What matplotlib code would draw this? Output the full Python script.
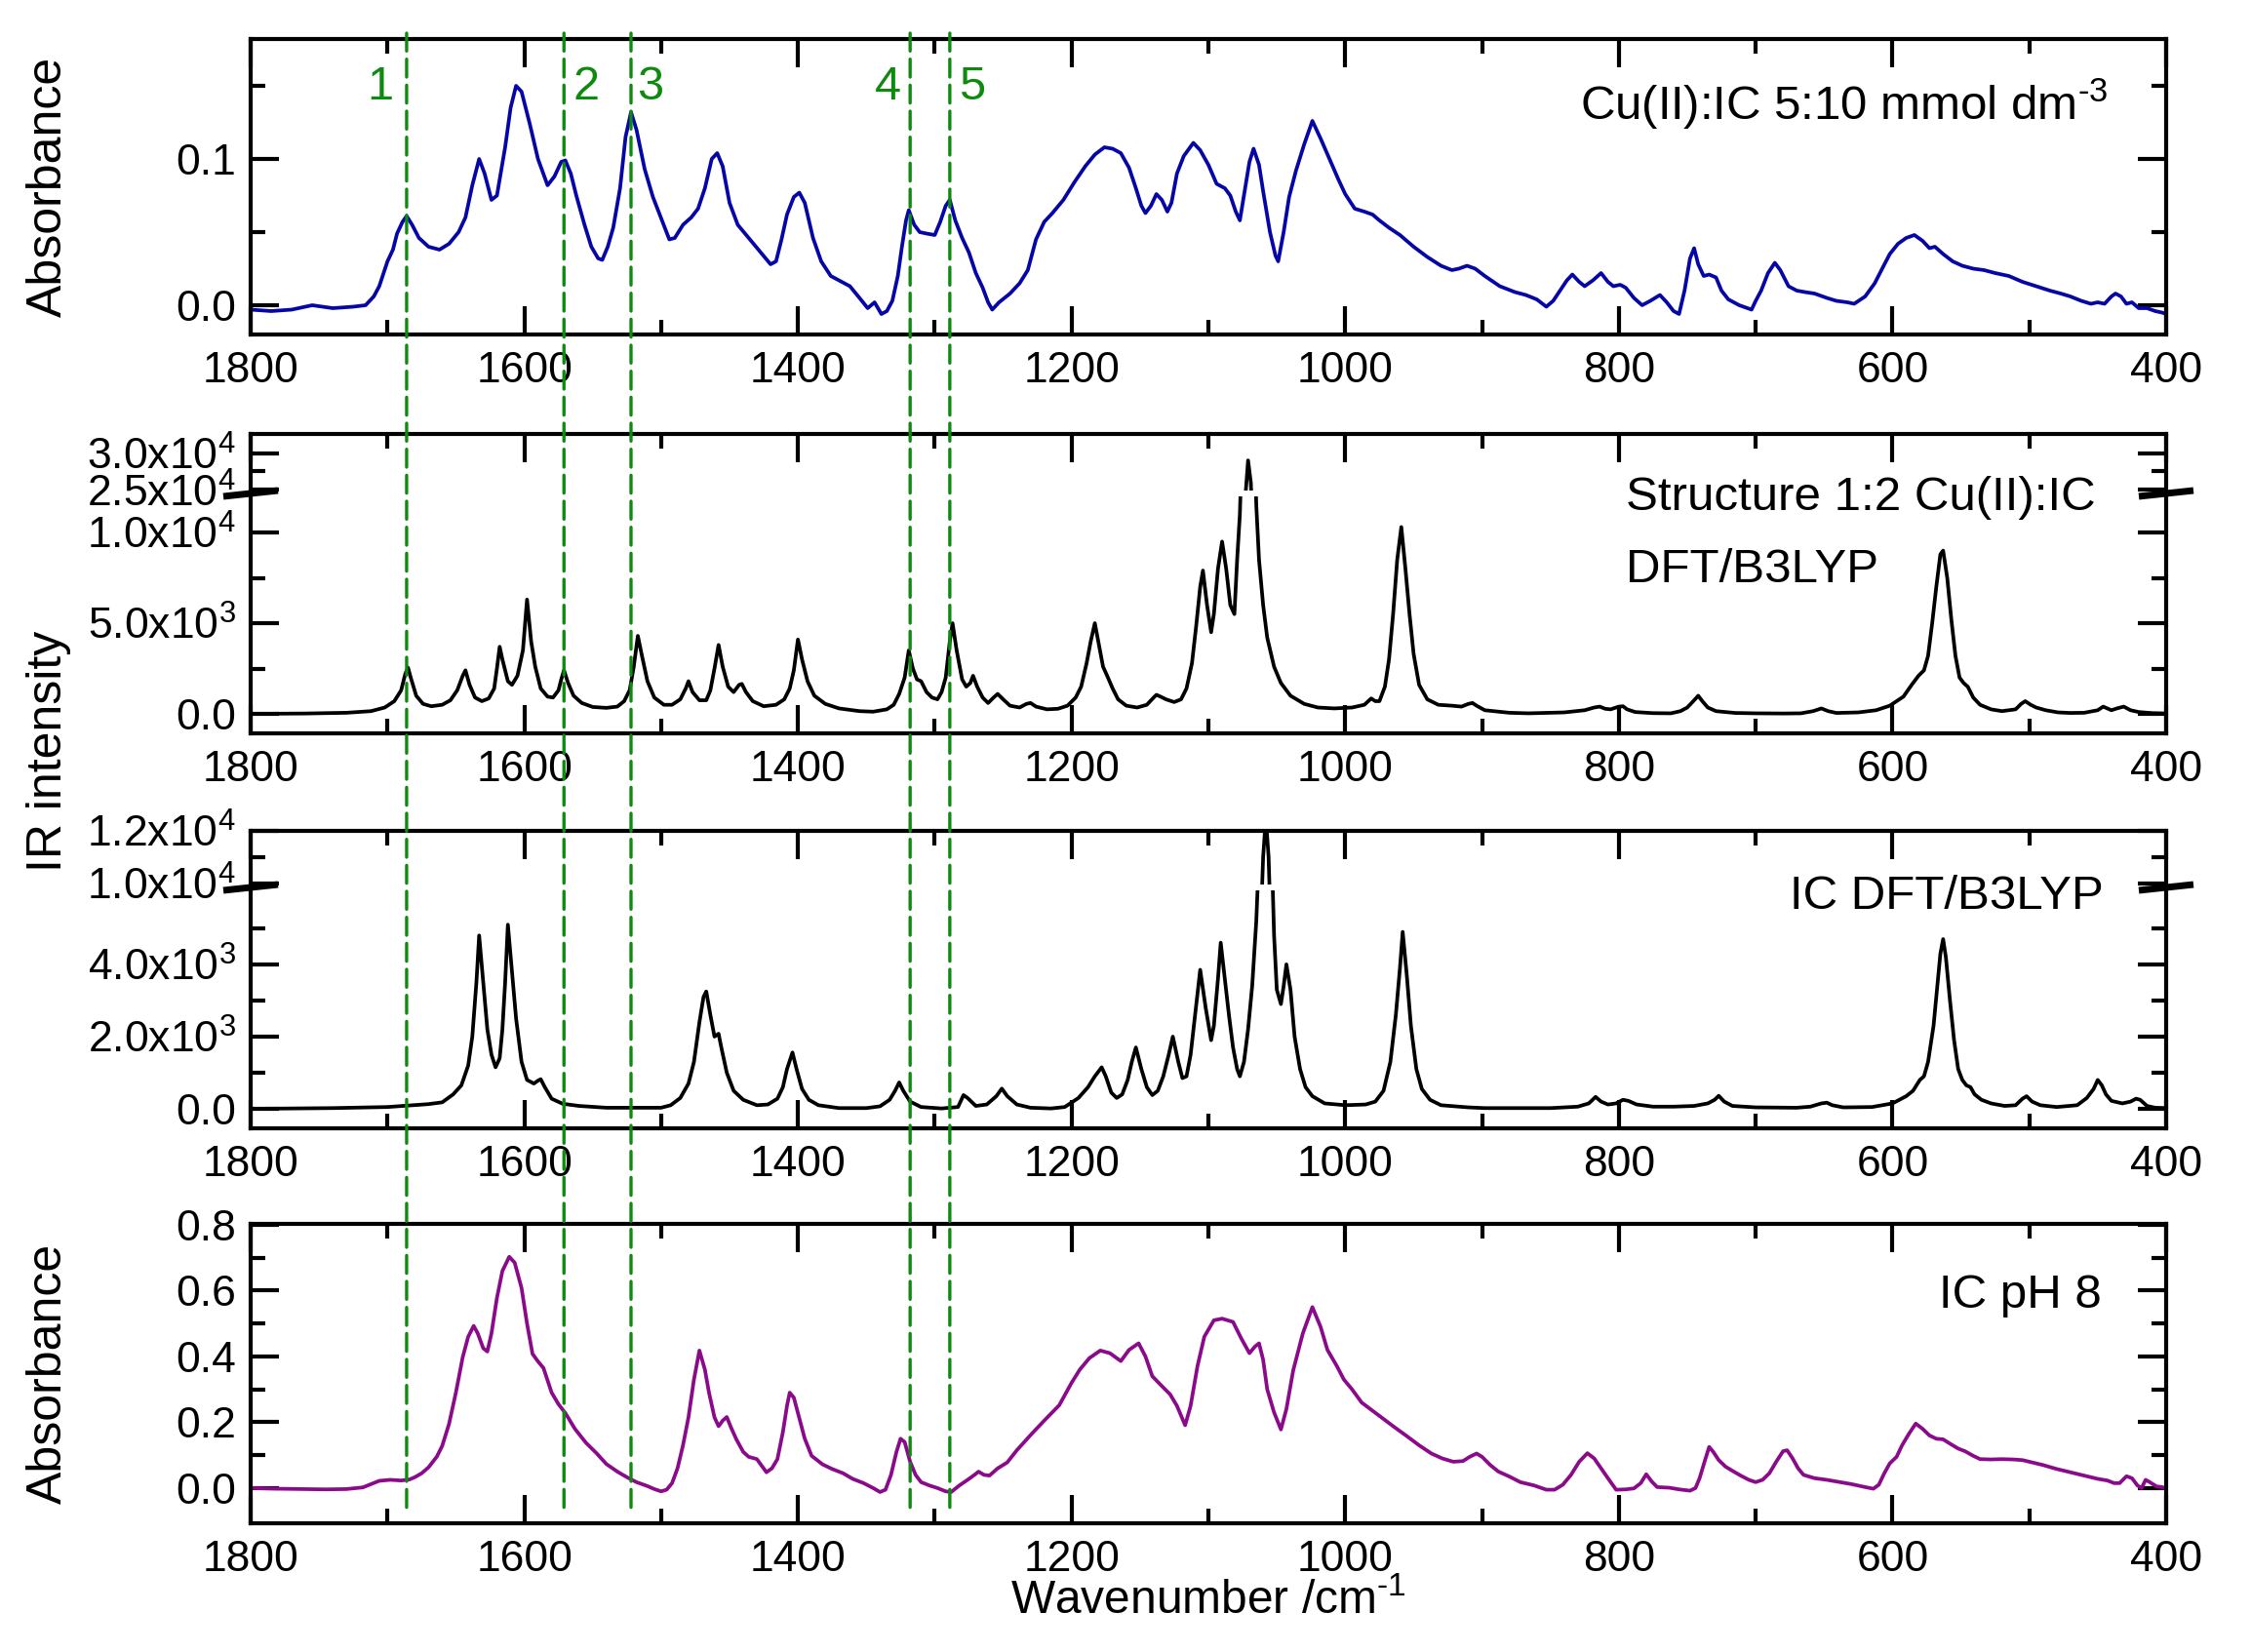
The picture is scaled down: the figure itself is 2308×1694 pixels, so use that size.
import matplotlib
matplotlib.use("Agg")
import matplotlib.pyplot as plt
from matplotlib.patches import ConnectionPatch
from matplotlib.lines import Line2D
from matplotlib.ticker import FixedLocator, FixedFormatter, MultipleLocator

plt.rcParams['font.family'] = ['Liberation Sans', 'DejaVu Sans']
plt.rcParams['mathtext.fontset'] = 'custom'
plt.rcParams['mathtext.rm'] = 'Liberation Sans'
plt.rcParams['mathtext.it'] = 'Liberation Sans:italic'
plt.rcParams['mathtext.bf'] = 'Liberation Sans:bold'

# ---------------- data ----------------
# Panel 1: Cu(II):IC 5:10 mmol dm-3 experimental absorbance
wn_cu = [1800, 1785, 1770, 1755, 1740, 1725, 1716, 1710, 1706, 1700, 1696, 1693, 1689, 1686, 1682, 1677,
         1670, 1662, 1655, 1648, 1643, 1638, 1633, 1629, 1624, 1620, 1614, 1610, 1606, 1602, 1596, 1590,
         1583, 1578, 1573, 1570, 1566, 1562, 1556, 1551, 1546, 1543, 1539, 1535, 1530, 1526, 1522, 1518,
         1512, 1506, 1501, 1494, 1490, 1484, 1478, 1473, 1468, 1463, 1459, 1455, 1450, 1444, 1436, 1428,
         1420, 1416, 1412, 1408, 1403, 1399, 1395, 1389, 1383, 1376, 1368, 1362, 1355, 1349, 1344, 1339,
         1335, 1331, 1327, 1324, 1321, 1319, 1315, 1311, 1306, 1300, 1296, 1292, 1289, 1285, 1280, 1275,
         1270, 1265, 1261, 1258, 1253, 1245, 1238, 1232, 1226, 1220, 1214, 1206, 1198, 1190, 1183, 1176,
         1170, 1164, 1158, 1153, 1149, 1146, 1142, 1138, 1134, 1130, 1127, 1123, 1118, 1111, 1106, 1100,
         1094, 1088, 1084, 1080, 1077, 1074, 1070, 1067, 1063, 1060, 1055, 1051, 1049, 1045, 1041, 1036,
         1030, 1024, 1018, 1011, 1005, 1000, 993, 986, 980, 975, 968, 960, 950, 940, 930, 922,
         917, 911, 905, 898, 887, 876, 868, 860, 853, 848, 843, 838, 834, 829, 825, 819,
         813, 808, 804, 799, 795, 789, 783, 777, 770, 765, 760, 756, 752, 748, 745, 742,
         738, 734, 729, 725, 720, 712, 706, 703, 700, 696, 691, 686, 682, 676, 670, 664,
         657, 648, 641, 633, 628, 620, 613, 607, 602, 596, 590, 584, 578, 573, 569, 563,
         556, 549, 541, 533, 525, 515, 505, 495, 485, 477, 470, 462, 455, 450, 445, 440,
         437, 433, 429, 425, 420, 414, 408, 403, 400]
abs_cu = [-0.003, -0.004, -0.003, 0.000, -0.002, -0.001, 0.000, 0.006, 0.013, 0.030, 0.038, 0.049, 0.057, 0.061, 0.055, 0.046,
          0.040, 0.038, 0.042, 0.050, 0.060, 0.082, 0.100, 0.090, 0.072, 0.075, 0.108, 0.135, 0.150, 0.146, 0.124, 0.100,
          0.082, 0.088, 0.098, 0.099, 0.090, 0.075, 0.055, 0.040, 0.032, 0.031, 0.040, 0.053, 0.080, 0.115, 0.132, 0.120,
          0.093, 0.074, 0.062, 0.045, 0.046, 0.055, 0.060, 0.066, 0.080, 0.100, 0.104, 0.095, 0.070, 0.055, 0.046, 0.037,
          0.028, 0.030, 0.045, 0.062, 0.074, 0.077, 0.070, 0.046, 0.030, 0.020, 0.016, 0.013, 0.005, -0.002, 0.002, -0.006,
          -0.004, 0.003, 0.020, 0.040, 0.058, 0.065, 0.055, 0.050, 0.049, 0.048, 0.057, 0.068, 0.072, 0.058, 0.046, 0.036,
          0.022, 0.012, 0.002, -0.003, 0.002, 0.008, 0.015, 0.024, 0.045, 0.057, 0.063, 0.072, 0.084, 0.095, 0.103, 0.108,
          0.107, 0.104, 0.094, 0.080, 0.068, 0.063, 0.068, 0.076, 0.072, 0.064, 0.070, 0.090, 0.102, 0.111, 0.106, 0.096,
          0.083, 0.080, 0.075, 0.064, 0.058, 0.075, 0.098, 0.107, 0.096, 0.078, 0.050, 0.034, 0.030, 0.050, 0.074, 0.092,
          0.110, 0.126, 0.114, 0.099, 0.086, 0.076, 0.066, 0.064, 0.062, 0.058, 0.053, 0.048, 0.040, 0.033, 0.027, 0.024,
          0.025, 0.027, 0.025, 0.020, 0.013, 0.009, 0.007, 0.004, -0.001, 0.003, 0.010, 0.017, 0.021, 0.016, 0.013, 0.017,
          0.022, 0.016, 0.013, 0.014, 0.012, 0.005, 0.000, 0.003, 0.007, 0.002, -0.004, -0.006, 0.010, 0.032, 0.039, 0.028,
          0.020, 0.021, 0.019, 0.010, 0.004, 0.000, -0.002, -0.003, 0.003, 0.010, 0.022, 0.029, 0.024, 0.013, 0.010, 0.009,
          0.008, 0.005, 0.003, 0.002, 0.001, 0.006, 0.015, 0.026, 0.035, 0.042, 0.046, 0.048, 0.044, 0.039, 0.040, 0.035,
          0.030, 0.027, 0.025, 0.024, 0.022, 0.020, 0.016, 0.013, 0.010, 0.008, 0.006, 0.003, 0.001, 0.002, 0.001, 0.006,
          0.008, 0.006, 0.001, 0.002, -0.002, -0.002, -0.004, -0.005, -0.006]

# Panel 2: Structure 1:2 Cu(II):IC, DFT/B3LYP IR intensity
wn_cu_dft = [1800, 1760, 1730, 1712, 1702, 1695, 1690, 1687, 1685, 1683, 1679, 1674, 1668, 1660, 1654, 1649,
             1645, 1643, 1640, 1636, 1631, 1626, 1622, 1620, 1618, 1616, 1612, 1609, 1605, 1601, 1598, 1595,
             1592, 1588, 1583, 1579, 1575, 1573, 1571, 1568, 1564, 1558, 1550, 1540, 1532, 1527, 1523, 1520,
             1517, 1514, 1510, 1505, 1498, 1492, 1486, 1482, 1480, 1477, 1472, 1467, 1464, 1461, 1458, 1455,
             1451, 1447, 1443, 1441, 1438, 1433, 1425, 1416, 1410, 1406, 1403, 1400, 1397, 1393, 1388, 1380,
             1370, 1355, 1345, 1335, 1330, 1326, 1322, 1319, 1316, 1313, 1310, 1306, 1302, 1298, 1295, 1292,
             1289, 1287, 1284, 1280, 1277, 1274, 1272, 1269, 1265, 1261, 1257, 1254, 1250, 1245, 1238, 1233,
             1230, 1226, 1218, 1210, 1203, 1197, 1193, 1189, 1186, 1183, 1180, 1177, 1174, 1170, 1166, 1160,
             1152, 1145, 1140, 1138, 1135, 1131, 1125, 1120, 1116, 1112, 1109, 1106, 1104, 1101, 1098, 1096,
             1093, 1090, 1087, 1084, 1081, 1079, 1077, 1075, 1073, 1071, 1069, 1067, 1065, 1063, 1060, 1057,
             1052, 1047, 1040, 1030, 1020, 1008, 995, 986, 981, 978, 975, 971, 968, 965, 962, 959,
             956, 953, 950, 946, 940, 932, 922, 915, 910, 907, 904, 898, 880, 866, 840, 825,
             818, 814, 810, 806, 800, 797, 794, 788, 775, 762, 755, 750, 745, 742, 739, 735,
             729, 715, 700, 680, 667, 658, 652, 647, 641, 625, 612, 602, 592, 586, 581, 577,
             574, 571, 568, 565, 563, 560, 557, 554, 551, 548, 545, 541, 536, 528, 520, 510,
             506, 503, 499, 495, 488, 479, 470, 460, 450, 446, 443, 440, 436, 431, 426, 420,
             410, 400]
ir_cu_dft = [0, 20, 60, 150, 350, 700, 1300, 2200, 2550, 2000, 1000, 550, 420, 500, 750, 1300,
             2100, 2400, 1600, 900, 700, 850, 1400, 2500, 3700, 3000, 1800, 1600, 2100, 3500, 6300, 4000,
             2600, 1400, 950, 900, 1300, 1900, 2400, 1700, 1000, 600, 380, 330, 400, 700, 1300, 2600,
             4300, 3200, 1800, 900, 500, 500, 800, 1400, 1800, 1200, 750, 750, 1300, 2500, 3800, 2600,
             1500, 1200, 1600, 1650, 1200, 700, 420, 500, 800, 1400, 2400, 4100, 3000, 1800, 1000, 550,
             300, 150, 120, 250, 500, 1100, 2000, 3500, 2500, 1900, 1800, 1200, 900, 800, 1200, 2000,
             4000, 5000, 3500, 1900, 1500, 1700, 2100, 1500, 900, 600, 900, 1100, 800, 450, 350, 550,
             600, 400, 250, 280, 450, 900, 1500, 2800, 4000, 5000, 3800, 2600, 2100, 1400, 800, 450,
             350, 500, 900, 1050, 950, 800, 650, 800, 1400, 2800, 4800, 7000, 7900, 6000, 4500, 5500,
             8000, 9500, 8000, 6000, 5500, 8500, 11000, 16000, 24000, 29000, 26000, 17000, 11500, 8500, 6000, 4200,
             2600, 1700, 1000, 550, 350, 300, 350, 500, 850, 700, 700, 1500, 3000, 5500, 8500, 10300,
             8000, 5500, 3300, 1600, 800, 500, 450, 400, 550, 600, 450, 200, 60, 30, 80, 200,
             350, 400, 280, 250, 400, 420, 250, 100, 40, 30, 150, 350, 750, 1000, 700, 350,
             150, 50, 30, 20, 30, 150, 300, 150, 50, 80, 200, 450, 950, 1600, 2100, 2400,
             3200, 5000, 7000, 8800, 9000, 7500, 5200, 3200, 2000, 1700, 1500, 900, 500, 250, 150, 250,
             550, 700, 500, 350, 200, 80, 50, 60, 200, 400, 300, 200, 300, 400, 200, 100,
             40, 20]

# Panel 3: IC, DFT/B3LYP IR intensity
wn_ic_dft = [1800, 1740, 1700, 1670, 1660, 1652, 1646, 1641, 1638, 1635, 1633, 1630, 1627, 1624, 1621, 1618,
             1616, 1614, 1612, 1609, 1606, 1602, 1598, 1593, 1590, 1588, 1585, 1580, 1572, 1560, 1540, 1500,
             1493, 1486, 1480, 1476, 1472, 1469, 1467, 1464, 1461, 1458, 1456, 1452, 1447, 1440, 1430, 1422,
             1415, 1411, 1408, 1404, 1401, 1397, 1392, 1385, 1370, 1350, 1340, 1333, 1329, 1326, 1323, 1318,
             1310, 1295, 1283, 1279, 1276, 1270, 1262, 1255, 1251, 1247, 1240, 1230, 1215, 1205, 1195, 1188,
             1183, 1178, 1175, 1171, 1167, 1163, 1159, 1156, 1153, 1149, 1145, 1141, 1137, 1133, 1129, 1126,
             1122, 1119, 1116, 1113, 1110, 1106, 1102, 1098, 1096, 1093, 1091, 1088, 1085, 1082, 1079, 1077,
             1074, 1071, 1068, 1065, 1062, 1060, 1058, 1056, 1054, 1052, 1050, 1047, 1045, 1043, 1040, 1037,
             1033, 1029, 1024, 1015, 1000, 985, 978, 972, 967, 963, 960, 958, 955, 952, 948, 944,
             938, 930, 910, 898, 880, 850, 830, 822, 817, 813, 808, 802, 797, 793, 787, 775,
             760, 745, 735, 730, 727, 723, 717, 700, 670, 660, 652, 648, 644, 636, 615, 600,
             590, 585, 580, 577, 574, 570, 567, 565, 563, 561, 558, 555, 552, 549, 546, 543,
             540, 535, 528, 518, 510, 505, 502, 498, 492, 480, 465, 458, 453, 450, 447, 444,
             440, 432, 426, 422, 419, 414, 408, 400]
ir_ic_dft = [0, 20, 50, 130, 180, 400, 650, 1200, 2000, 3500, 4800, 3500, 2200, 1500, 1150, 1400,
             2200, 3500, 5100, 3800, 2500, 1300, 800, 700, 780, 820, 600, 280, 140, 80, 30, 30,
             100, 300, 700, 1300, 2400, 3100, 3250, 2600, 2000, 2080, 1700, 1000, 500, 250, 100, 120,
             280, 600, 1100, 1560, 1100, 550, 250, 100, 20, 20, 70, 250, 500, 730, 500, 200,
             50, 10, 50, 380, 300, 80, 120, 350, 560, 350, 120, 30, 10, 50, 300, 600,
             900, 1150, 900, 450, 300, 400, 800, 1300, 1700, 1100, 600, 380, 500, 900, 1500, 2000,
             1300, 850, 900, 1500, 2500, 3850, 2800, 1900, 2300, 3600, 4600, 3600, 2600, 1700, 1100, 900,
             1300, 2200, 3400, 5200, 8000, 11000, 12500, 11000, 7500, 4800, 3300, 2900, 3400, 4000, 3300, 2000,
             1100, 600, 350, 150, 100, 120, 200, 500, 1300, 2600, 3900, 4900, 3700, 2300, 1100, 550,
             250, 100, 40, 20, 20, 20, 60, 150, 330, 200, 120, 150, 250, 220, 120, 60,
             60, 80, 150, 250, 360, 200, 80, 40, 30, 60, 150, 170, 100, 40, 50, 150,
             350, 500, 800, 900, 1300, 2300, 3500, 4300, 4700, 4200, 3000, 1900, 1100, 800, 650, 600,
             400, 250, 150, 80, 100, 280, 350, 200, 100, 50, 100, 300, 550, 800, 650, 400,
             220, 150, 200, 280, 250, 80, 30, 20]

# Panel 4: IC pH 8 experimental absorbance
wn_ic = [1800, 1780, 1760, 1745, 1730, 1718, 1712, 1706, 1698, 1690, 1684, 1680, 1675, 1670, 1664, 1660,
         1655, 1650, 1645, 1641, 1637, 1634, 1630, 1627, 1624, 1620, 1616, 1611, 1607, 1602, 1598, 1594,
         1590, 1586, 1580, 1575, 1570, 1563, 1555, 1547, 1540, 1532, 1525, 1518, 1510, 1505, 1500, 1496,
         1492, 1488, 1484, 1480, 1476, 1472, 1468, 1465, 1461, 1458, 1455, 1452, 1449, 1445, 1440, 1436,
         1430, 1426, 1423, 1419, 1415, 1411, 1408, 1406, 1403, 1400, 1395, 1390, 1382, 1375, 1367, 1360,
         1352, 1345, 1340, 1336, 1332, 1328, 1325, 1322, 1318, 1314, 1310, 1304, 1298, 1292, 1288, 1282,
         1276, 1271, 1268, 1264, 1260, 1254, 1247, 1240, 1230, 1220, 1209, 1200, 1194, 1187, 1179, 1172,
         1164, 1158, 1151, 1146, 1141, 1134, 1128, 1123, 1117, 1113, 1108, 1103, 1096, 1090, 1082, 1076,
         1070, 1066, 1063, 1060, 1057, 1052, 1047, 1043, 1038, 1031, 1024, 1018, 1013, 1006, 1001, 995,
         988, 980, 972, 964, 955, 946, 937, 929, 921, 914, 909, 904, 900, 894, 888, 880,
         872, 862, 853, 847, 841, 835, 829, 823, 818, 813, 808, 802, 795, 789, 784, 780,
         776, 772, 763, 756, 748, 744, 741, 737, 734, 731, 727, 722, 716, 711, 705, 700,
         695, 690, 685, 680, 677, 673, 669, 665, 657, 648, 641, 630, 620, 614, 610, 606,
         602, 597, 593, 588, 583, 578, 573, 568, 563, 558, 552, 547, 541, 536, 528, 520,
         512, 505, 498, 490, 480, 470, 460, 450, 443, 438, 434, 429, 425, 421, 418, 415,
         412, 407, 403, 400]
abs_ic = [0.000, -0.002, -0.003, -0.004, -0.003, 0.002, 0.012, 0.022, 0.025, 0.023, 0.026, 0.033, 0.045, 0.063, 0.095, 0.128,
          0.195, 0.290, 0.398, 0.460, 0.493, 0.470, 0.425, 0.415, 0.470, 0.578, 0.660, 0.703, 0.685, 0.608, 0.500, 0.408,
          0.385, 0.365, 0.290, 0.255, 0.228, 0.180, 0.138, 0.105, 0.073, 0.050, 0.033, 0.018, 0.006, -0.003, -0.010, -0.005,
          0.015, 0.060, 0.130, 0.215, 0.330, 0.418, 0.360, 0.290, 0.215, 0.188, 0.205, 0.216, 0.185, 0.148, 0.110, 0.095,
          0.088, 0.065, 0.048, 0.060, 0.088, 0.170, 0.250, 0.290, 0.275, 0.228, 0.150, 0.098, 0.072, 0.058, 0.045, 0.028,
          0.015, 0.000, -0.012, -0.005, 0.040, 0.110, 0.150, 0.140, 0.080, 0.040, 0.018, 0.008, 0.000, -0.010, -0.012, 0.008,
          0.025, 0.040, 0.050, 0.040, 0.038, 0.060, 0.078, 0.115, 0.161, 0.205, 0.252, 0.320, 0.360, 0.395, 0.418, 0.410,
          0.386, 0.420, 0.440, 0.400, 0.340, 0.310, 0.285, 0.250, 0.191, 0.250, 0.370, 0.460, 0.510, 0.515, 0.505, 0.455,
          0.410, 0.430, 0.440, 0.390, 0.300, 0.230, 0.178, 0.240, 0.358, 0.470, 0.550, 0.490, 0.420, 0.370, 0.330, 0.300,
          0.260, 0.235, 0.210, 0.185, 0.158, 0.130, 0.105, 0.090, 0.080, 0.082, 0.095, 0.105, 0.095, 0.070, 0.050, 0.035,
          0.018, 0.008, -0.005, -0.005, 0.010, 0.040, 0.080, 0.106, 0.090, 0.060, 0.030, -0.005, -0.004, -0.001, 0.015, 0.042,
          0.020, 0.003, 0.001, -0.004, -0.008, 0.000, 0.030, 0.085, 0.125, 0.110, 0.085, 0.065, 0.050, 0.038, 0.025, 0.018,
          0.025, 0.045, 0.080, 0.112, 0.115, 0.090, 0.060, 0.040, 0.030, 0.025, 0.020, 0.012, 0.003, -0.002, 0.010, 0.045,
          0.075, 0.095, 0.130, 0.165, 0.196, 0.180, 0.160, 0.150, 0.148, 0.135, 0.120, 0.112, 0.098, 0.088, 0.087, 0.088,
          0.087, 0.085, 0.078, 0.070, 0.058, 0.048, 0.038, 0.028, 0.023, 0.015, 0.015, 0.036, 0.030, 0.008, 0.000, 0.025,
          0.018, 0.005, 0.003, -0.002]

# marker lines (numbered bands)
band_wn = [1686, 1571, 1522, 1318, 1289]
band_labels = ["1", "2", "3", "4", "5"]
band_label_wn = [1705, 1555, 1508, 1334, 1273]

# axis ticks and labels
x_major = [1800, 1600, 1400, 1200, 1000, 800, 600, 400]
x_labels = ["1800", "1600", "1400", "1200", "1000", "800", "600", "400"]
p1_ticks = [0.0, 0.1]
p1_labels = ["0.0", "0.1"]
p1_minor = [0.05, 0.15]
p2_lo_ticks = [0, 5000, 10000]
p2_lo_labels = ["0.0", r"5.0x10$^{3}$", r"1.0x10$^{4}$"]
p2_lo_minor = [2500, 7500]
p2_hi_ticks = [25000, 30000]
p2_hi_labels = [r"2.5x10$^{4}$", r"3.0x10$^{4}$"]
p2_hi_minor = [27500]
p3_lo_ticks = [0, 2000, 4000]
p3_lo_labels = ["0.0", r"2.0x10$^{3}$", r"4.0x10$^{3}$"]
p3_lo_minor = [1000, 3000, 5000]
p3_hi_ticks = [10000, 12000]
p3_hi_labels = [r"1.0x10$^{4}$", r"1.2x10$^{4}$"]
p3_hi_minor = [11000]
p4_ticks = [0.0, 0.2, 0.4, 0.6, 0.8]
p4_labels = ["0.0", "0.2", "0.4", "0.6", "0.8"]
p4_minor = [0.1, 0.3, 0.5, 0.7]

# ---------------- figure ----------------
W, H = 2308, 1694
fig = plt.figure(figsize=(W / 100, H / 100), dpi=100)
L_PX, R_PX = 257, 2221


def rect(top_px, bot_px):
    return [L_PX / W, 1 - bot_px / H, (R_PX - L_PX) / W, (bot_px - top_px) / H]


TICK_FS = 32
LW_SPINE = 3.0


def style(ax, yt, yl, ymin, top=True, bottom=True, xlabels=True):
    ax.set_xlim(1800, 400)
    for s in ax.spines.values():
        s.set_linewidth(LW_SPINE)
    ax.xaxis.set_major_locator(FixedLocator(x_major))
    ax.xaxis.set_minor_locator(MultipleLocator(100))
    if xlabels:
        ax.xaxis.set_major_formatter(FixedFormatter(x_labels))
    else:
        ax.set_xticklabels([])
    ax.yaxis.set_major_locator(FixedLocator(yt))
    ax.yaxis.set_major_formatter(FixedFormatter(yl))
    ax.yaxis.set_minor_locator(FixedLocator(ymin))
    ax.tick_params(which='both', direction='in', width=3.0, top=top, bottom=bottom,
                   left=True, right=True, labelbottom=xlabels, labeltop=False,
                   labelsize=TICK_FS)
    ax.tick_params(which='major', length=21)
    ax.tick_params(which='minor', length=11)
    ax.tick_params(axis='x', pad=12)
    ax.tick_params(axis='y', pad=11)


LW_DATA = 2.7
BLUE = '#0606a6'
PURPLE = '#8a0a8a'
GREEN = '#0e8a0e'

# panel 1
ax1 = fig.add_axes(rect(40, 343))
ax1.plot(wn_cu, abs_cu, color=BLUE, lw=LW_DATA)
ax1.set_ylim(-0.02, 0.182)
style(ax1, p1_ticks, p1_labels, p1_minor)

# panel 2 (broken axis)
ax2u = fig.add_axes(rect(445, 503))
ax2l = fig.add_axes(rect(509, 752))
for a in (ax2u, ax2l):
    a.plot(wn_cu_dft, ir_cu_dft, color='black', lw=LW_DATA)
ax2u.set_ylim(24900, 32600)
ax2l.set_ylim(-1075, 11990)
style(ax2u, p2_hi_ticks, p2_hi_labels, p2_hi_minor, top=True, bottom=False, xlabels=False)
style(ax2l, p2_lo_ticks, p2_lo_labels, p2_lo_minor, top=False, bottom=True, xlabels=True)
ax2u.spines['bottom'].set_visible(False)
ax2l.spines['top'].set_visible(False)

# panel 3 (broken axis)
ax3u = fig.add_axes(rect(852, 907))
ax3l = fig.add_axes(rect(913, 1157))
for a in (ax3u, ax3l):
    a.plot(wn_ic_dft, ir_ic_dft, color='black', lw=LW_DATA)
ax3u.set_ylim(9950, 12000)
ax3l.set_ylim(-540, 6050)
style(ax3u, p3_hi_ticks, p3_hi_labels, p3_hi_minor, top=True, bottom=False, xlabels=False)
style(ax3l, p3_lo_ticks, p3_lo_labels, p3_lo_minor, top=False, bottom=True, xlabels=True)
ax3u.spines['bottom'].set_visible(False)
ax3l.spines['top'].set_visible(False)

# panel 4
ax4 = fig.add_axes(rect(1255, 1562))
ax4.plot(wn_ic, abs_ic, color=PURPLE, lw=LW_DATA)
ax4.set_ylim(-0.107, 0.803)
style(ax4, p4_ticks, p4_labels, p4_minor)

# break marks on the broken axes
for ypx in (506, 910):
    for xc in (L_PX, R_PX):
        fig.add_artist(Line2D([(xc - 28) / W, (xc + 28) / W],
                              [1 - (ypx + 3) / H, 1 - (ypx - 3) / H],
                              transform=fig.transFigure, color='black', lw=5.0,
                              solid_capstyle='butt'))

# green dashed band lines through all panels
for wn in band_wn:
    cp = ConnectionPatch(xyA=(wn, 0.186), coordsA=ax1.transData,
                         xyB=(wn, -0.065), coordsB=ax4.transData,
                         color=GREEN, lw=2.4, linestyle=(0, (5.5, 2.5)), zorder=10)
    fig.add_artist(cp)
for wn, lab in zip(band_label_wn, band_labels):
    ax1.text(wn, 0.149, lab, color=GREEN, fontsize=35, ha='center', va='center')

# annotations
ANN_FS = 35.5
fig.text(2162 / W, 1 - 123 / H, r"Cu(II):IC 5:10 mmol dm$^{\text{-}3}$", fontsize=ANN_FS,
         ha='right', va='baseline')
fig.text(1667 / W, 1 - 523 / H, "Structure 1:2 Cu(II):IC", fontsize=ANN_FS,
         ha='left', va='baseline')
fig.text(1667 / W, 1 - 597 / H, "DFT/B3LYP", fontsize=ANN_FS, ha='left', va='baseline')
fig.text(2157 / W, 1 - 932 / H, "IC DFT/B3LYP", fontsize=ANN_FS, ha='right', va='baseline')
fig.text(2155 / W, 1 - 1341 / H, "IC pH 8", fontsize=ANN_FS, ha='right', va='baseline')

# axis labels
LAB_FS = 36
fig.text(50 / W, 1 - 191 / H, "Absorbance", rotation=90, fontsize=LAB_FS, ha='center', va='center')
fig.text(50 / W, 1 - 770 / H, "IR intensity", rotation=90, fontsize=LAB_FS, ha='center', va='center')
fig.text(50 / W, 1 - 1408 / H, "Absorbance", rotation=90, fontsize=LAB_FS, ha='center', va='center')
fig.text((L_PX + R_PX) / 2 / W, 1 - 1655 / H, r"Wavenumber /cm$^{\text{-}1}$", fontsize=34.5,
         ha='center', va='baseline')

fig.savefig("out.png", dpi=100, facecolor='white')
